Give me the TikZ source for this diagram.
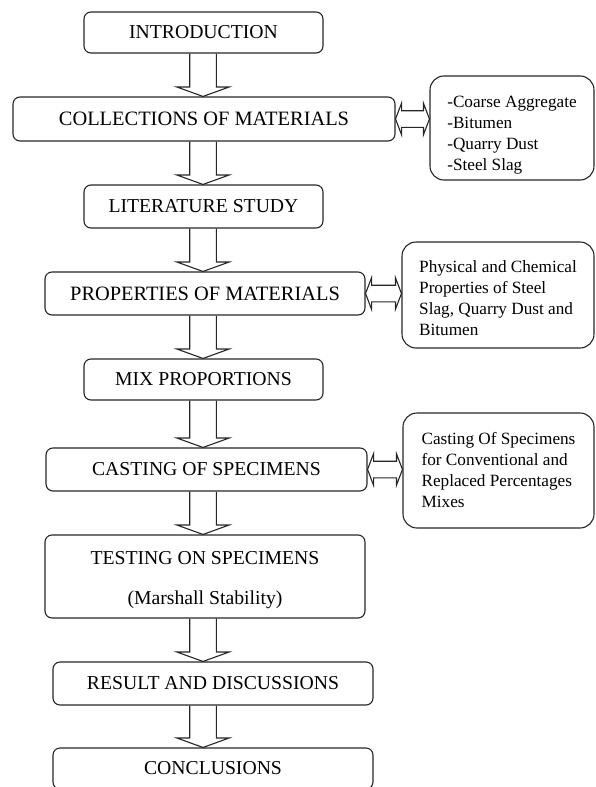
\documentclass[tikz,border=0pt]{standalone}
\usepackage{fontspec}
\setmainfont{Liberation Serif}
\usetikzlibrary{calc}
\tikzset{
  mainbox/.style={draw=black!85, line width=1.1pt, rounded corners=7pt, inner sep=0pt,
    font=\fontsize{19.7}{23}\selectfont, align=center},
  bigbox/.style={mainbox, font=\fontsize{20.4}{23}\selectfont},
  sidebox/.style={draw=black!85, line width=1.1pt, rounded corners=14pt, inner sep=0pt,
    font=\fontsize{17.2}{21}\selectfont, align=left},
  blk/.style={draw=black!85, line width=1.1pt, line join=miter},
}
\newcommand\blockdown[2]{%
  \coordinate (bt) at (#1.south -| ax);
  \coordinate (bb) at (#2.north -| ax);
  \draw[blk] ($(bt)+(-13.3,0)$) -- ($(bb)+(-13.3,-9.5)$) -- ($(bb)+(-26.3,-9.5)$) -- (bb)
    -- ($(bb)+(26.3,-9.5)$) -- ($(bb)+(13.3,-9.5)$) -- ($(bt)+(13.3,0)$);
}
\newcommand\blockboth[2]{%
  \coordinate (hl) at (#1.east);
  \coordinate (hr) at (#2.west |- #1.east);
  \draw[blk] (hl) -- ($(hl)+(6,-15.8)$) -- ($(hl)+(6,-8.3)$) -- ($(hr)+(-6,-8.3)$)
    -- ($(hr)+(-6,-15.8)$) -- (hr) -- ($(hr)+(-6,15.8)$) -- ($(hr)+(-6,8.3)$)
    -- ($(hl)+(6,8.3)$) -- ($(hl)+(6,15.8)$) -- cycle;
}
\begin{document}
\begin{tikzpicture}[x=1pt,y=-1pt]
\useasboundingbox (0,0) rectangle (595,787);
\clip (0,0) rectangle (595,787);
\coordinate (ax) at (203,0);

\node[mainbox, minimum width=239pt, minimum height=41pt] (intro) at (203.5,32.5) {INTRODUCTION};
\node[bigbox, minimum width=382pt, minimum height=44pt] (coll) at (204,119) {COLLECTIONS OF MATERIALS};
\node[sidebox, minimum width=164pt, minimum height=104pt] (r1) at (512,128)
  {\rule{0pt}{25pt}-Coarse Aggregate\\-Bitumen\\-Quarry Dust\\-Steel Slag};
\node[mainbox, minimum width=239pt, minimum height=43pt] (lit) at (203.5,206.5) {LITERATURE STUDY};
\node[bigbox, minimum width=320pt, minimum height=43pt] (prop) at (205,293.5) {PROPERTIES OF MATERIALS};
\node[sidebox, minimum width=192pt, minimum height=106pt] (r2) at (498,295)
  {\rule{0pt}{18pt}Physical and Chemical\\Properties of Steel\\Slag, Quarry Dust and\\Bitumen};
\node[mainbox, minimum width=239pt, minimum height=41pt] (mix) at (203.5,379.5) {MIX PROPORTIONS};
\node[mainbox, minimum width=321pt, minimum height=43pt] (cast) at (206.5,469.5) {CASTING OF SPECIMENS};
\node[sidebox, minimum width=191pt, minimum height=115pt] (r3) at (498.5,470.5)
  {Casting Of Specimens\\for Conventional and\\Replaced Percentages\\Mixes};
\node[mainbox, minimum width=320pt, minimum height=83pt] (test) at (205,576.5)
  {\rule{0pt}{20pt}TESTING ON SPECIMENS\\[17pt](Marshall Stability)};
\node[mainbox, minimum width=320pt, minimum height=43pt] (res) at (213,683.5) {RESULT AND DISCUSSIONS};
\node[mainbox, minimum width=320pt, minimum height=41pt] (conc) at (213,768.5) {CONCLUSIONS};

\blockdown{intro}{coll}
\blockdown{coll}{lit}
\blockdown{lit}{prop}
\blockdown{prop}{mix}
\blockdown{mix}{cast}
\blockdown{cast}{test}
\blockdown{test}{res}
\blockdown{res}{conc}

\blockboth{coll}{r1}
\blockboth{prop}{r2}
\blockboth{cast}{r3}
\end{tikzpicture}
\end{document}
